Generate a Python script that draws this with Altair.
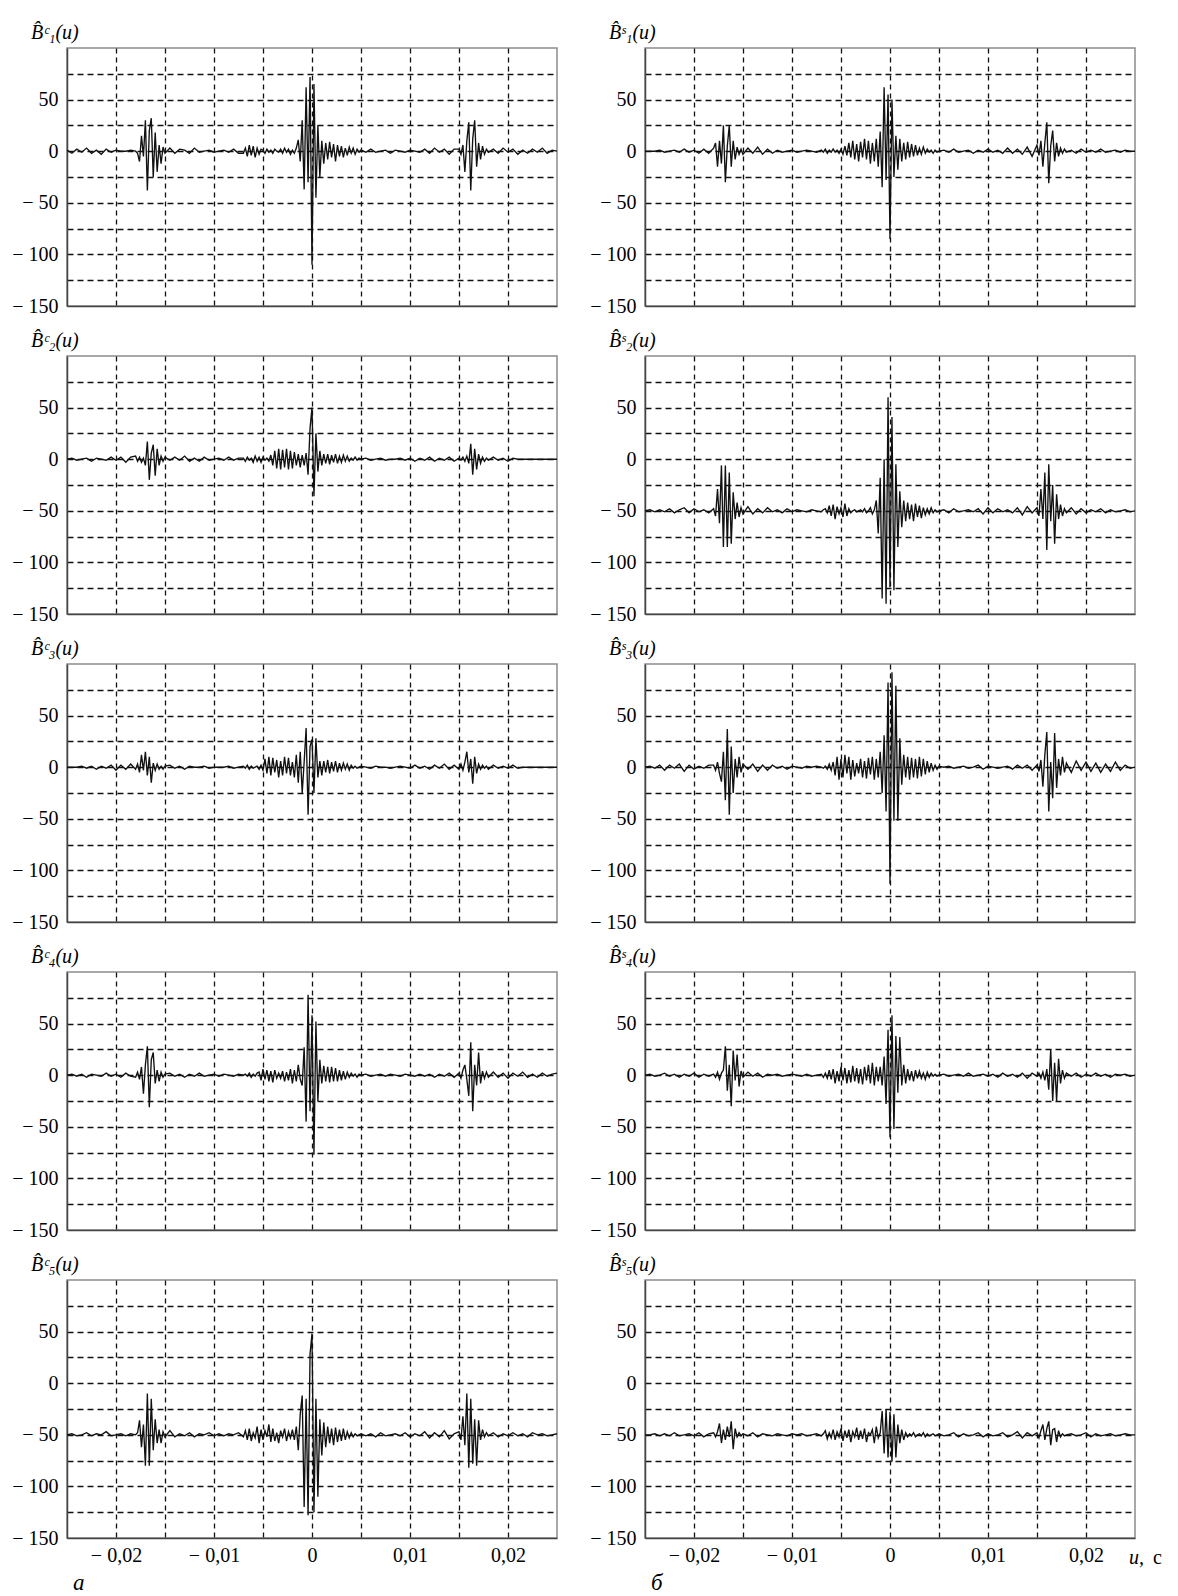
import altair as alt
import pandas as pd

# time grid, units of 1e-4 s
U_A = [-250, -245, -240, -235, -230, -225, -220, -215, -210, -205, -200, -195, -190, -185]
U_B = [-180, -178, -176, -174, -172, -170, -168, -166, -164, -162, -160, -158, -156, -154, -152, -150]
U_C = [-145, -140, -135, -130, -125, -120, -115, -110, -105, -100, -95, -90, -85, -80, -75]
U_D = [-70, -68, -66, -64, -62, -60, -58, -56, -54, -52,
       -50, -48, -46, -44, -42, -40, -38, -36, -34, -32,
       -30, -28, -26, -24, -22, -20, -18, -16, -14, -12,
       -10, -8, -6, -4, -2, 0, 2, 4, 6, 8,
       10, 12, 14, 16, 18, 20, 22, 24, 26, 28,
       30, 32, 34, 36, 38, 40, 42, 44, 46, 48,
       50]
U_E = [55, 60, 65, 70, 75, 80, 85, 90, 95, 100, 105, 110, 115, 120, 125, 130, 135, 140, 145]
U_F = [150, 152, 154, 156, 158, 160, 162, 164, 166, 168, 170, 172, 174, 176, 178, 180]
U_G = [185, 190, 195, 200, 205, 210, 215, 220, 225, 230, 235, 240, 245, 250]
U = U_A + U_B + U_C + U_D + U_E + U_F + U_G

B1C = [1, -2, 2, -1, 3, -2, 1, -3, 2, -1, 1, 0, 0, 1,
       0, -2, -10, 15, -5, 30, -38, 20, 32, -25, 18, -20, 6, -12, 4, -2,
       3, -2, 2, 1, -2, 3, -1, 0, 1, -1, 0, 1, -1, 2, -2,
       -2, 3, -5, 6, -4, 5, -6, 3, -3, 2,
       1, -2, 2, -1, 1, -2, 2, 0, -1, 2,
       -2, 3, -1, 2, -3, 1, -2, 3, 11, -10,
       30, -37, 62, -30, 72, -110, 65, -45, 25, -25,
       10, -12, 8, -8, 9, -6, 7, -10, 6, -5,
       5, -6, 3, -4, 4, -2, 3, -3, 2, -1,
       1,
       -1, 2, -1, 0, 1, -2, 1, 0, -1, 1, 0, -1, 2, -2, 3, -1, 2, -3, 2,
       2, -3, 6, -20, 10, 28, -38, 12, 30, -15, 8, -8, 5, -3, 2, -1,
       2, -2, 3, -1, 2, -3, 1, -2, 2, -1, 3, -2, 1, 0]

B2C = [0, 1, -1, 0, 1, -2, 1, 0, -1, 2, -1, 2, -3, 2,
       3, -2, 2, -3, 1, -6, 17, -20, 6, 14, -16, 10, -6, 3, -2, 2,
       -1, 2, -1, 3, -2, 1, -2, 2, -1, 0, 1, -1, 2, -1, 1,
       1, -2, 2, -1, 1, -3, 3, -2, 2, -3,
       2, -1, 1, -2, 4, -6, 8, -9, 10, -10,
       9, -8, 10, -10, 8, -9, 7, -6, 5, -8,
       4, -6, 6, -15, 30, 50, -36, 25, -12, 8,
       -6, 5, -4, 5, -5, 4, -3, 5, -4, 3,
       -3, 4, -2, 3, -2, 1, -1, 2, -1, 1,
       0,
       1, -1, 0, 1, -1, 0, 0, 1, -1, 1, -2, 1, -1, 2, -2, 1, -1, 2, -2,
       1, -1, 2, -2, 3, -4, 15, -15, 10, -10, 5, -4, 2, -2, 1, -1,
       2, -1, 1, -2, 1, 0, 0, 0, 0, 0, 0, 0, 0, 0]

B3C = [0, 0, 0, 1, -1, 1, -2, 1, -1, 2, -3, 2, -2, 3,
       -2, 3, -5, 12, -3, 15, -8, 10, -15, 4, -3, 3, -2, 1, -2, 1,
       2, -1, 1, -2, 1, 0, 0, 1, -1, 0, 0, 0, 1, -1, 0,
       1, -1, 2, -2, 1, -1, 0, 1, -2, 2,
       -3, 8, -6, 10, -8, 9, -5, 7, -10, 6,
       -8, 10, -6, 9, -8, 5, -10, 12, -15, 15,
       -25, 5, 38, -46, 20, 27, -25, 28, -10, 6,
       -8, 6, -5, 7, -6, 5, -4, 6, -5, 4,
       -3, 4, -2, 3, -3, 2, -1, 1, -1, 0,
       1,
       0, -1, 1, 0, 0, -1, 0, 1, 0, -1, 2, -1, 1, -2, 2, -1, 3, -2, 2,
       -2, 3, -3, 5, 15, -5, 8, -16, 10, -6, 3, -2, 2, -1, 1, -2,
       2, -1, 1, -1, 2, -1, 0, 0, 0, 0, 0, 0, 0, 0]

B4C = [0, 1, -1, 1, -2, 1, 0, -1, 2, -1, 1, -2, 2, -1,
       -2, 3, -4, 8, -18, 10, 28, -31, 15, 22, -8, 5, -6, 3, -2, 1,
       2, -1, 1, -2, 1, -1, 2, -1, 0, 1, -1, 1, 0, -1, 1,
       0, 1, -1, 2, -2, 1, -1, 2, 3, -5,
       6, -4, 5, -6, 4, -7, 5, -3, 2, -3,
       4, -6, 3, -5, 6, -8, 5, -6, 10, -4,
       -10, 27, -45, 78, -35, 58, -77, 52, -25, 15,
       -8, 9, -6, 8, -7, 8, -6, 7, -6, 5,
       -5, 4, -4, 3, -2, 2, -1, 1, -2, 1,
       0,
       1, -1, 0, 1, -1, 1, 0, -1, 1, 0, -1, 1, -1, 1, -2, 1, -1, 2, -2,
       2, -3, 5, 10, -4, -20, 32, -35, 10, -10, 22, -8, 4, -3, 3, -2,
       3, -2, 2, -3, 2, -1, 3, -2, 1, -2, 2, -1, 1, 2]

B5C = [-50, -49, -51, -50, -48, -51, -49, -50, -47, -51, -50, -49, -51, -49,
       -50, -48, -36, -62, -40, -80, -10, -80, -15, -65, -35, -58, -45, -58, -47, -52,
       -46, -52, -49, -51, -48, -52, -49, -50, -48, -51, -49, -51, -49, -50, -48,
       -52, -46, -55, -44, -56, -48, -53, -42, -58, -45,
       -55, -46, -52, -40, -57, -44, -56, -48, -58, -46,
       -52, -44, -56, -47, -53, -45, -55, -42, -65, -30,
       -12, -120, -15, -128, 28, 48, -125, -15, -110, -35,
       -70, -38, -62, -42, -58, -44, -60, -43, -57, -45,
       -56, -44, -55, -47, -53, -48, -52, -49, -51, -50,
       -49,
       -51, -49, -52, -48, -51, -50, -49, -51, -48, -52, -49, -51, -47, -53, -48, -52, -46, -54, -49,
       -47, -55, -32, -60, -10, -82, -15, -78, -35, -80, -36, -55, -45, -52, -48, -51,
       -48, -52, -49, -51, -48, -51, -49, -52, -48, -50, -49, -51, -50, -49]

B1S = [0, 0, 0, 1, -1, 0, 1, -1, 2, -1, 1, -2, 2, -2,
       3, 8, -15, 10, -12, 25, -30, 5, 25, -15, 10, -8, 4, -3, 2, -3,
       3, -2, 4, -3, 2, -2, 1, -1, 0, 1, -1, 0, 1, 0, -1,
       1, -1, 2, -2, 1, -1, 2, -1, 1, -2,
       2, -3, 5, -4, 8, -6, 10, -8, 7, -10,
       9, -6, 12, -8, 10, -12, 8, -10, 12, -15,
       19, -35, 62, -28, 55, -85, 50, -25, 15, -18,
       12, -10, 8, -8, 9, -6, 7, -5, 6, -4,
       3, -3, 4, -2, 2, -1, 1, -2, 1, -1,
       0,
       1, -1, 2, -1, 0, 1, -2, 1, -1, 2, -1, 1, -2, 3, -2, 2, -3, 4, -5,
       6, -4, 10, -15, 8, 28, -31, 5, 20, -10, 8, -5, 3, -2, 2, -1,
       1, -2, 2, -1, 1, -1, 2, -1, 0, 1, -1, 1, 0, 0]

B2S = [-50, -49, -51, -49, -51, -48, -52, -49, -47, -52, -48, -51, -49, -52,
       -48, -55, -29, -62, -6, -85, -6, -85, -13, -82, -32, -58, -42, -56, -47, -53,
       -46, -53, -48, -52, -47, -51, -49, -52, -48, -51, -49, -50, -51, -49, -50,
       -51, -49, -48, -52, -45, -55, -44, -58, -46, -53,
       -47, -56, -43, -55, -48, -52, -50, -49, -51, -50,
       -49, -51, -48, -52, -50, -47, -53, -49, -40, -72,
       -18, -135, 0, -140, 60, -124, 41, -127, -5, -85,
       -31, -66, -40, -60, -42, -58, -44, -60, -43, -56,
       -45, -57, -47, -54, -48, -53, -47, -52, -49, -51,
       -50,
       -49, -52, -48, -51, -50, -49, -51, -48, -53, -47, -52, -48, -51, -49, -52, -47, -54, -46, -52,
       -47, -55, -29, -58, -13, -88, -5, -60, -25, -82, -34, -58, -44, -55, -48, -52,
       -47, -53, -48, -52, -49, -51, -48, -52, -49, -51, -50, -49, -51, -50]

B3S = [0, 1, -1, 2, -3, 2, -1, 3, -4, 2, -2, 1, -1, 2,
       2, -3, 5, -6, -14, 15, -32, 37, -46, 20, -25, 8, -10, 10, -5, 3,
       -2, 3, -4, 2, -3, 2, -1, 1, -2, 1, 0, -1, 1, 0, 1,
       0, -1, 1, -2, 3, -3, 5, -8, 10, -12,
       8, -10, 12, -6, 10, -12, 7, -9, 4, -6,
       8, -10, 6, -11, 9, -7, 10, -12, 8, -10,
       15, -25, 31, -43, 82, -113, 92, -52, 79, -52,
       28, -17, 12, -10, 10, -12, 9, -10, 8, -11,
       10, -9, 8, -7, 6, -5, 4, -3, 2, -2,
       1,
       0, 1, -1, 0, 1, -1, 0, 2, -2, 1, 0, -1, 0, 1, -2, 2, -1, 2, -3,
       2, -4, 7, -19, 12, 34, -43, 5, -30, 33, -20, 8, -8, 10, -5, 4,
       -5, 6, -3, 5, -4, 4, -5, 3, -4, 5, -3, 2, -1, 0]

B4S = [0, 1, -1, 0, 2, -1, 1, -2, 1, -1, 2, -2, 1, -1,
       1, -2, 3, -4, 2, 5, 28, -15, 10, -30, 24, -5, 20, -11, 4, -2,
       3, -1, 2, -2, 1, 0, 1, -1, 0, 1, 0, -1, 1, -1, 0,
       1, -2, 2, -3, 5, -4, 6, -8, 4, -6,
       8, -5, 7, -8, 5, -7, 9, -6, 7, -8,
       6, -9, 8, -5, 10, -8, 12, -10, 8, -6,
       8, -10, 18, -28, 44, -60, 58, -52, 38, -17,
       37, -10, 10, -8, 6, -5, 4, -6, 5, -3,
       4, -3, 2, -4, 3, -2, 2, -1, 1, -1,
       0,
       1, -1, 0, 1, -1, 2, -1, 0, 1, -1, 1, -2, 2, -1, 1, -2, 2, -3, 2,
       -1, 2, -3, 3, -5, 6, -14, 25, -25, 12, -25, 16, -8, 5, -3, 2,
       -1, 2, -2, 1, -1, 2, -1, 1, -2, 1, 0, 1, -1, 0]

B5S = [-50, -50, -49, -51, -49, -51, -48, -51, -50, -49, -51, -48, -52, -49,
       -48, -52, -47, -39, -58, -45, -55, -42, -52, -37, -64, -44, -52, -48, -51, -49,
       -51, -48, -52, -49, -50, -51, -49, -50, -51, -49, -50, -49, -51, -50, -49,
       -51, -49, -46, -54, -48, -53, -45, -55, -47, -52,
       -44, -56, -46, -53, -45, -57, -47, -52, -43, -55,
       -46, -54, -44, -57, -48, -50, -45, -58, -42, -53,
       -48, -27, -68, -25, -72, -28, -76, -30, -72, -40,
       -58, -45, -55, -48, -52, -49, -51, -48, -52, -50,
       -49, -51, -48, -52, -49, -51, -50, -49, -51, -50,
       -49,
       -51, -50, -48, -52, -49, -51, -50, -48, -52, -49, -51, -50, -48, -52, -50, -47, -53, -48, -51,
       -48, -53, -46, -40, -55, -44, -37, -60, -45, -44, -57, -46, -52, -49, -51, -50,
       -49, -51, -50, -48, -52, -49, -51, -50, -49, -51, -50, -49, -50, -50]

TITLES_C = ["B\u0302\u1d9c\u2081(u)", "B\u0302\u1d9c\u2082(u)", "B\u0302\u1d9c\u2083(u)",
            "B\u0302\u1d9c\u2084(u)", "B\u0302\u1d9c\u2085(u)"]
TITLES_S = ["B\u0302\u02e2\u2081(u)", "B\u0302\u02e2\u2082(u)", "B\u0302\u02e2\u2083(u)",
            "B\u0302\u02e2\u2084(u)", "B\u0302\u02e2\u2085(u)"]

# axis positions (labels shown at multiples of 0.01 / 50; grid at every position inside)
X_STEPS = [-0.025, -0.02, -0.015, -0.01, -0.005, 0.0, 0.005, 0.01, 0.015, 0.02, 0.025]
Y_STEPS = [-150, -125, -100, -75, -50, -25, 0, 25, 50, 75, 100]

X = [u * 1e-4 for u in U]
for s in (B1C, B2C, B3C, B4C, B5C, B1S, B2S, B3S, B4S, B5S):
    assert len(s) == len(X), len(s)

FONT = "Liberation Serif"
W, H = 490, 258
XS = alt.Scale(domain=[-0.025, 0.025], nice=False, zero=False)
YS = alt.Scale(domain=[-150, 100], nice=False, zero=False)

X_LABEL = ("abs(datum.value) > 0.024 || abs(round(datum.value * 1000)) % 10 != 0 "
           "? '' : datum.label")
Y_LABEL = "datum.value > 90 || abs(datum.value) % 50 != 0 ? '' : datum.label"
X_EDGE = "abs(datum.value) > 0.024"
Y_EDGE = "datum.value < -140 || datum.value > 90"


def panel(vals, title, bottom=False, corner=None, unit=False):
    df = pd.DataFrame({"u": X, "v": vals})
    xaxis = alt.Axis(
        values=X_STEPS, labels=bottom, format=".2~f", labelExpr=X_LABEL, ticks=False,
        title=None, labelPadding=7,
        grid=True, gridColor="#111", gridWidth=1.3, gridDash=[5, 4],
        gridOpacity={"condition": {"test": X_EDGE, "value": 0}, "value": 1},
    )
    yaxis = alt.Axis(
        values=Y_STEPS, format="d", labelExpr=Y_LABEL, ticks=False, title=None,
        labelPadding=9,
        grid=True, gridColor="#111", gridWidth=1.3, gridDash=[6, 4],
        gridOpacity={"condition": {"test": Y_EDGE, "value": 0}, "value": 1},
    )
    line = alt.Chart(df).mark_line(color="#111", strokeWidth=1.35).encode(
        x=alt.X("u:Q", scale=XS, axis=xaxis),
        y=alt.Y("v:Q", scale=YS, axis=yaxis),
    )
    layers = [line]
    if corner is not None:
        layers.append(
            alt.Chart(pd.DataFrame({"t": [corner]})).mark_text(
                font=FONT, fontStyle="italic", fontSize=23, align="left",
                baseline="middle", color="black"
            ).encode(text="t:N", x=alt.value(6), y=alt.value(H + 45))
        )
    if unit:
        layers.append(
            alt.Chart(pd.DataFrame({"t": ["u,"]})).mark_text(
                font=FONT, fontStyle="italic", fontSize=20, align="left",
                baseline="middle", color="black"
            ).encode(text="t:N", x=alt.value(W - 6), y=alt.value(H + 20))
        )
        layers.append(
            alt.Chart(pd.DataFrame({"t": ["c"]})).mark_text(
                font=FONT, fontSize=20, align="left", baseline="middle", color="black"
            ).encode(text="t:N", x=alt.value(W + 18), y=alt.value(H + 20))
        )
    return alt.layer(*layers).properties(
        width=W, height=H,
        title=alt.TitleParams(text=title, anchor="start", frame="group", dx=-36, offset=5,
                              font=FONT, fontStyle="italic", fontSize=20,
                              fontWeight="normal", color="black"),
    )


LEFT = [B1C, B2C, B3C, B4C, B5C]
RIGHT = [B1S, B2S, B3S, B4S, B5S]
rows = []
for i in range(5):
    last = i == 4
    lp = panel(LEFT[i], TITLES_C[i], bottom=last, corner="\u0430" if last else None)
    rp = panel(RIGHT[i], TITLES_S[i], bottom=last, corner="\u0431" if last else None, unit=last)
    rows.append(alt.hconcat(lp, rp, spacing=27))

chart = alt.vconcat(*rows, spacing=13).properties(
    padding={"left": 10, "top": 22, "right": 4, "bottom": 4}
).configure(
    background="white",
    locale={"number": {"decimal": ",", "thousands": "\u00a0", "grouping": [3],
                       "currency": ["", ""], "minus": "\u2212\u2005"}},
).configure_view(
    stroke="#8c8c8c", strokeWidth=1.5
).configure_axis(
    domainColor="#444", domainWidth=1.5, labelFont=FONT, labelFontSize=20,
    labelColor="black"
)

chart.save("out.html", embed_options={"renderer": "svg", "actions": False})
